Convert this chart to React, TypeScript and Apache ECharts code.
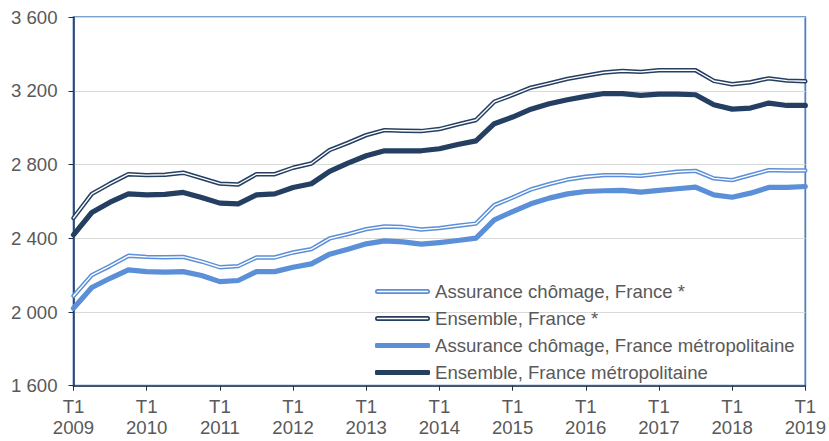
import React, { useEffect, useRef } from "react";
import * as echarts from "echarts";

const quarters = [
  "T1 2009", "T2 2009", "T3 2009", "T4 2009",
  "T1 2010", "T2 2010", "T3 2010", "T4 2010",
  "T1 2011", "T2 2011", "T3 2011", "T4 2011",
  "T1 2012", "T2 2012", "T3 2012", "T4 2012",
  "T1 2013", "T2 2013", "T3 2013", "T4 2013",
  "T1 2014", "T2 2014", "T3 2014", "T4 2014",
  "T1 2015", "T2 2015", "T3 2015", "T4 2015",
  "T1 2016", "T2 2016", "T3 2016", "T4 2016",
  "T1 2017", "T2 2017", "T3 2017", "T4 2017",
  "T1 2018", "T2 2018", "T3 2018", "T4 2018",
  "T1 2019",
];

const assuranceFrance = [
  2087, 2200, 2250, 2305, 2299, 2297, 2299, 2274, 2243, 2249,
  2296, 2296, 2323, 2341, 2399, 2423, 2450, 2464, 2461, 2448,
  2455, 2468, 2480, 2580, 2621, 2665, 2694, 2719, 2734, 2743,
  2743, 2739, 2750, 2761, 2766, 2725, 2716, 2743, 2770, 2768, 2768,
];

const ensembleFrance = [
  2510, 2641, 2697, 2748, 2743, 2745, 2756, 2727, 2697, 2692,
  2748, 2748, 2783, 2806, 2879, 2918, 2960, 2987, 2984, 2982,
  2993, 3018, 3042, 3141, 3178, 3218, 3241, 3265, 3283, 3300,
  3308, 3303, 3312, 3312, 3312, 3254, 3236, 3247, 3268, 3256, 3252,
];

const assuranceMetro = [
  2020, 2133, 2183, 2229, 2219, 2216, 2219, 2198, 2165, 2171,
  2219, 2219, 2243, 2261, 2314, 2341, 2370, 2386, 2381, 2368,
  2377, 2388, 2401, 2500, 2545, 2587, 2618, 2641, 2654, 2658,
  2660, 2651, 2660, 2669, 2678, 2636, 2623, 2645, 2676, 2676, 2681,
];

const ensembleMetro = [
  2419, 2540, 2596, 2641, 2636, 2638, 2649, 2622, 2591, 2587,
  2636, 2641, 2676, 2696, 2763, 2808, 2848, 2875, 2875, 2875,
  2886, 2909, 2929, 3022, 3058, 3101, 3130, 3152, 3170, 3186,
  3185, 3176, 3183, 3183, 3179, 3125, 3101, 3107, 3134, 3121, 3121,
];

const seriesNames = [
  "Assurance chômage, France *",
  "Ensemble, France *",
  "Assurance chômage, France métropolitaine",
  "Ensemble, France métropolitaine",
];

const LIGHT = "#5B8FD8";
const DARK = "#243F62";
const FONT = "Liberation Sans";
const TEXT = "#595959";
const FS = 18.6;

const doubleIcon =
  "path://M5,0 H105 A5,5 0 0 1 105,10 H5 A5,5 0 0 1 5,0 Z M5,3.5 A1.5,1.5 0 0 0 5,6.5 H105 A1.5,1.5 0 0 0 105,3.5 Z";

export default function App() {
  const ref = useRef<HTMLDivElement>(null);

  useEffect(() => {
    if (!ref.current) return;
    const chart = echarts.init(ref.current, undefined, { renderer: "svg" });

    const mkLine = (name: string, data: number[], color: string, width: number, z: number) => ({
      name,
      type: "line",
      data,
      symbol: "none",
      smooth: false,
      z,
      itemStyle: { color },
      lineStyle: { color, width, cap: "round", join: "round" },
      emphasis: { disabled: true },
    });

    chart.setOption({
      animation: false,
      textStyle: { fontFamily: FONT },
      grid: {
        left: 73.5,
        right: 22.3,
        top: 17.2,
        bottom: 55.3,
        show: true,
        borderColor: "#4F81BD",
        borderWidth: 1.8,
        backgroundColor: "transparent",
      },
      legend: {
        orient: "vertical",
        left: 375,
        top: 281,
        padding: 0,
        itemWidth: 55,
        itemHeight: 5,
        itemGap: 6,
        selectedMode: false,
        itemStyle: { borderWidth: 0 },
        textStyle: { fontFamily: FONT, fontSize: FS, color: TEXT, lineHeight: 21 },
        data: [
          { name: seriesNames[0], icon: doubleIcon },
          { name: seriesNames[1], icon: doubleIcon },
          { name: seriesNames[2], icon: "roundRect" },
          { name: seriesNames[3], icon: "roundRect" },
        ],
      },
      xAxis: {
        type: "category",
        data: quarters,
        boundaryGap: false,
        axisLine: { show: true, lineStyle: { color: "#1F2F45", width: 1.5 } },
        axisTick: { show: true, interval: 3, length: 5, lineStyle: { color: "#1F2F45", width: 1 } },
        axisLabel: {
          interval: 3,
          margin: 10,
          fontFamily: FONT,
          fontSize: FS,
          lineHeight: 21,
          color: TEXT,
          formatter: (v: string) => v.replace(" ", "\n"),
        },
        splitLine: { show: false },
      },
      yAxis: {
        type: "value",
        min: 1600,
        max: 3600,
        interval: 400,
        axisLine: { show: true, lineStyle: { color: "#1F3864", width: 1.5 } },
        axisTick: { show: true, length: 5, lineStyle: { color: "#1F2F45" } },
        axisLabel: {
          margin: 16,
          fontFamily: FONT,
          fontSize: FS,
          color: TEXT,
          formatter: (v: number) => String(v).replace(/\B(?=(\d{3})+(?!\d))/g, " "),
        },
        splitLine: { show: true, lineStyle: { color: "#D9D9D9", width: 1 } },
      },
      series: [
        mkLine(seriesNames[0], assuranceFrance, LIGHT, 4.4, 2),
        { ...mkLine("_inner0", assuranceFrance, "#FFFFFF", 1.4, 3) },
        mkLine(seriesNames[1], ensembleFrance, DARK, 4.4, 2),
        { ...mkLine("_inner1", ensembleFrance, "#FFFFFF", 1.4, 3) },
        mkLine(seriesNames[2], assuranceMetro, LIGHT, 5.2, 2),
        mkLine(seriesNames[3], ensembleMetro, DARK, 5.2, 2),
      ],
    });

    return () => chart.dispose();
  }, []);

  return (
    <div
      ref={ref}
      style={{ position: "fixed", left: 0, top: 0, width: 829, height: 441, background: "#fff" }}
    />
  );
}
